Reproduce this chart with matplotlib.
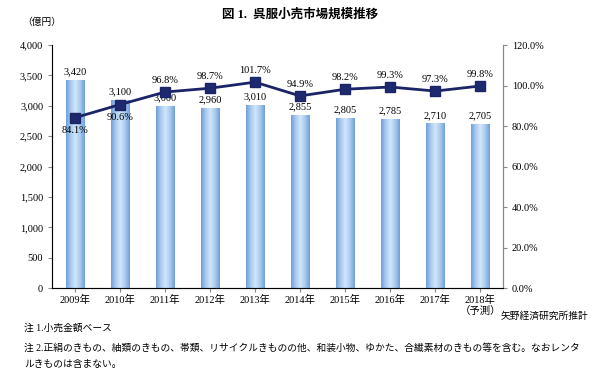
import numpy as np
import matplotlib.pyplot as plt
import matplotlib as mpl
from matplotlib.ticker import FuncFormatter
from matplotlib.colors import LinearSegmentedColormap

mpl.rcParams["font.family"] = ["Liberation Serif", "Noto Sans CJK JP"]

# data
years = ["2009年", "2010年", "2011年", "2012年", "2013年", "2014年",
         "2015年", "2016年", "2017年", "2018年\n（予測）"]
market = [3420, 3100, 3000, 2960, 3010, 2855, 2805, 2785, 2710, 2705]
growth = [84.1, 90.6, 96.8, 98.7, 101.7, 94.9, 98.2, 99.3, 97.3, 99.8]

fig = plt.figure(figsize=(6, 3.79), dpi=100)
ax1 = fig.add_axes([0.087, 0.240, 0.751, 0.641])
x = list(range(len(years)))

bars = ax1.bar(x, market, width=0.4, color="#a9cbf0", edgecolor="#7aa6dc",
               linewidth=0.6, zorder=2)

# cylinder-like shading on bars
cmap = LinearSegmentedColormap.from_list(
    "cyl", ["#6f9fd8", "#a9cbf0", "#d2e6fa", "#a9cbf0", "#6f9fd8"])
grad = np.linspace(0, 1, 64).reshape(1, -1)
for b in bars:
    bx, by = b.get_x(), b.get_y()
    im = ax1.imshow(grad, cmap=cmap, aspect="auto", zorder=2.1,
                    extent=[bx, bx + b.get_width(), by, by + b.get_height()])
    im.set_clip_path(b)

ax1.set_ylim(0, 4000)
ax1.set_xlim(-0.5, len(years) - 0.5)
ax1.set_yticks(range(0, 4001, 500))
ax1.yaxis.set_major_formatter(FuncFormatter(lambda v, p: f"{int(v):,}"))
ax1.set_xticks(x)
ax1.set_xticklabels(years, linespacing=1.1)
ax1.tick_params(labelsize=7.5, length=3, color="#888888")
ax1.tick_params(axis="x", pad=2)
ax1.spines["top"].set_visible(False)
for s in ["left", "bottom", "right"]:
    ax1.spines[s].set_color("#888888")

ax2 = ax1.twinx()
ax2.plot(x, growth, color="#1b2466", linewidth=2, marker="s",
         markersize=7, markerfacecolor="#1f2a6e", zorder=3)
ax2.set_ylim(0, 120)
ax2.set_yticks(range(0, 121, 20))
ax2.yaxis.set_major_formatter(FuncFormatter(lambda v, p: f"{v:.1f}%"))
ax2.tick_params(labelsize=7.5, length=3, color="#888888")
ax2.spines["top"].set_visible(False)
ax2.spines["right"].set_color("#888888")

# labels
for i, v in enumerate(market):
    ax1.text(i, v + 60, f"{v:,}", ha="center", va="bottom", fontsize=7.5)
for i, g in enumerate(growth):
    if i < 2:
        ax2.text(i, g - 4, f"{g:.1f}%", ha="center", va="top", fontsize=7.5)
    else:
        ax2.text(i, g + 3.5, f"{g:.1f}%", ha="center", va="bottom", fontsize=7.5)

fig.text(0.5, 0.962, "図 1.  呉服小売市場規模推移", ha="center", va="center",
         fontsize=9, fontweight="bold")
fig.text(0.07, 0.942, "（億円）", ha="center", va="center", fontsize=7)
fig.text(0.98, 0.165, "矢野経済研究所推計", ha="right", va="center", fontsize=7)
fig.text(0.04, 0.135, "注 1.小売金額ベース", ha="left", va="center", fontsize=7)
fig.text(0.04, 0.083, "注 2.正絹のきもの、紬類のきもの、帯類、リサイクルきものの他、和装小物、ゆかた、合繊素材のきもの等を含む。なおレンタ",
         ha="left", va="center", fontsize=7)
fig.text(0.04, 0.038, "ルきものは含まない。", ha="left", va="center", fontsize=7)

fig.savefig("out.png", dpi=100)
